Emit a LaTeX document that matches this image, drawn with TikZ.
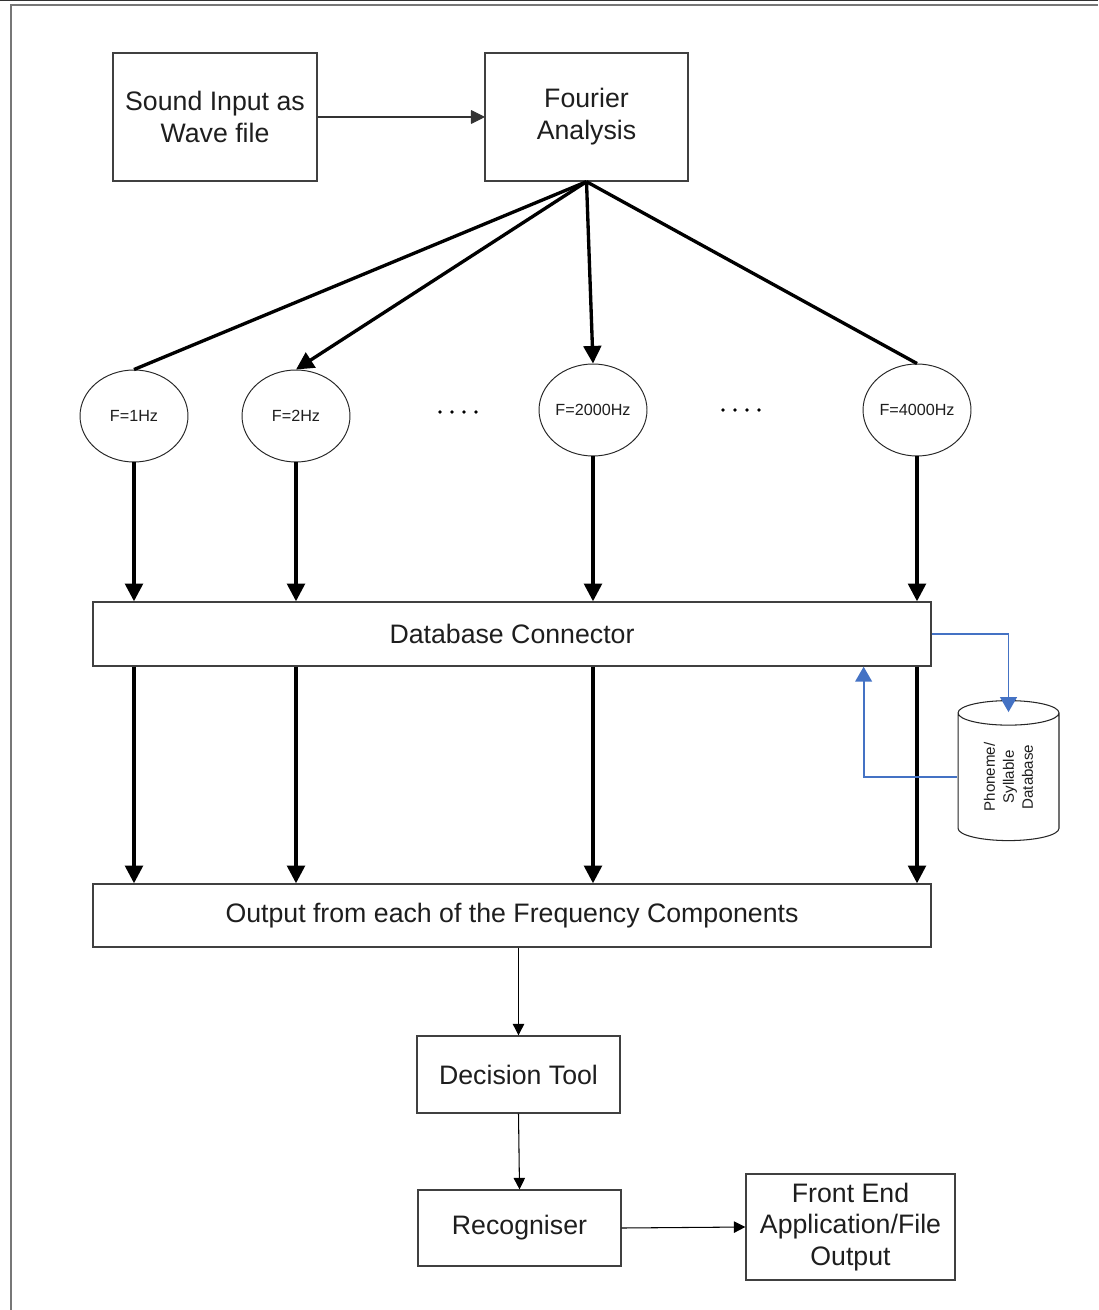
\documentclass[tikz,border=0pt]{standalone}
\usepackage{fontspec}
\setmainfont{Liberation Sans}
\usepackage{xcolor}
\usepackage{tikz}
\usetikzlibrary{calc,arrows.meta,shapes.geometric}
\definecolor{boxGray}{RGB}{64,64,64}
\definecolor{textGray}{RGB}{30,30,30}
\definecolor{frameGray}{RGB}{85,85,85}
\definecolor{linkBlue}{RGB}{68,114,196}

\begin{document}
\begin{tikzpicture}[x=0.02cm,y=-0.02cm,
    procBox/.style={draw=boxGray, line width=0.8pt, fill=white, align=center, inner sep=0pt,
        text=textGray, font=\fontsize{15.2}{18.1}\selectfont},
    freqNode/.style={ellipse, draw=black!85, line width=0.55pt, minimum width=2.16cm,
        minimum height=1.84cm, inner sep=0pt, text=textGray, font=\fontsize{9.2}{11}\selectfont},
    thickLine/.style={black, line width=1.9pt},
    thickArrow/.style={thickLine, -{Triangle[length=10pt,width=10pt]}},
    thinArrow/.style={black, line width=0.6pt, -{Triangle[length=6.5pt,width=6.5pt]}},
    dbLink/.style={linkBlue, line width=1.1pt, -{Triangle[length=8.5pt,width=9.5pt]}}]
    \useasboundingbox (0,0) rectangle (1098,1310);

    % page frame
    \draw[black!80, line width=0.8pt] (0,0.7) -- (1098,0.7);
    \draw[frameGray!80, line width=1.1pt] (11,1310) -- (11,5) -- (1098,5);

    % input stage
    \node[procBox, minimum width=4.08cm, minimum height=2.56cm] (sound) at (215,117)
        {Sound Input as\\Wave file};
    \node[procBox, minimum width=4.06cm, minimum height=2.56cm] (fourier) at (586.5,117)
        {Fourier\\Analysis};
    \draw[black!80, line width=0.6pt, -{Triangle[length=8pt,width=8pt,round]}]
        (sound.east) -- (fourier.west);

    % frequency components
    \node[freqNode] (f1) at (134,416) {F=1Hz};
    \node[freqNode] (f2) at (296,416) {F=2Hz};
    \node[freqNode] (f2000) at (593,410) {F=2000Hz};
    \node[freqNode] (f4000) at (917,410) {F=4000Hz};
    \foreach \d in {0,...,3} {
        \fill[black] ({440+\d*12},412) circle (1.1pt);
        \fill[black] ({723+\d*12},410) circle (1.1pt);
    }

    \draw[thickLine] (fourier.south) -- (f1.north);
    \draw[thickArrow] (fourier.south) -- (f2.north);
    \draw[thickArrow] (fourier.south) -- (f2000.north);
    \draw[thickLine] (fourier.south) -- (f4000.north);

    % database stage
    \node[procBox, minimum width=16.76cm, minimum height=1.28cm] (dbConn) at (512,634)
        {Database Connector};
    \node[procBox, minimum width=16.76cm, minimum height=1.26cm] (outBox) at (512,915.5)
        {Output from each of the Frequency Components};
    \node[cylinder, rotate=90, draw=black!85, line width=0.6pt, aspect=0.5, fill=white,
        minimum width=2.02cm, minimum height=2.8cm, inner sep=0pt, align=center, text=textGray,
        font=\fontsize{8.6}{10.8}\selectfont] (phonDb) at (1008.5,777)
        {Phoneme/\\Syllable\\Database};

    \foreach \f in {f1,f2,f2000,f4000} {
        \draw[thickArrow] (\f.south) -- (\f.south |- dbConn.north);
        \draw[thickArrow] (\f.south |- dbConn.south) -- (\f.south |- outBox.north);
    }

    \draw[dbLink] (dbConn.east) -| ($(phonDb.east)+(0,12)$);
    \draw[dbLink] (phonDb.north) -| ($(dbConn.south east)+(-68,0)$);

    % decision stage
    \node[procBox, minimum width=4.06cm, minimum height=1.54cm] (decision) at (518.5,1074.5)
        {Decision Tool};
    \node[procBox, minimum width=4.06cm, minimum height=1.52cm] (recog) at (519.5,1228)
        {Recogniser};
    \node[procBox, minimum width=4.18cm, minimum height=2.12cm] (frontEnd) at (850.5,1227)
        {Front End\\Application/File\\Output};

    \draw[thinArrow] (decision.north |- outBox.south) -- (decision.north);
    \draw[thinArrow] (decision.south) -- (recog.north);
    \draw[thinArrow] (recog.east) -- (frontEnd.west);
\end{tikzpicture}
\end{document}
